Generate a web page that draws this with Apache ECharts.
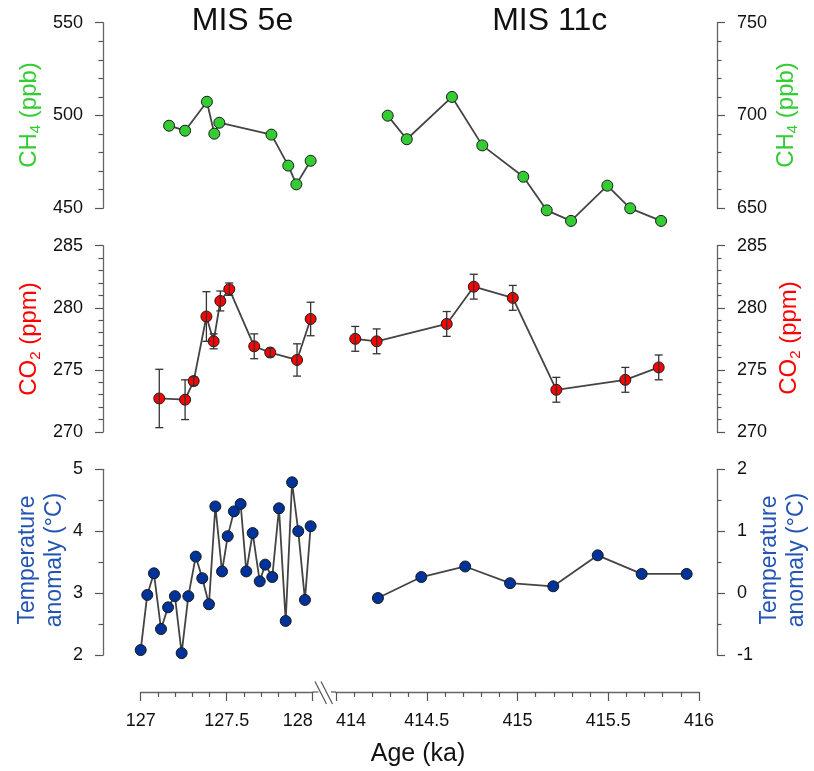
<!DOCTYPE html>
<html><head><meta charset="utf-8">
<script src="https://cdn.jsdelivr.net/npm/echarts@6/dist/echarts.min.js"></script>
<style>html,body{margin:0;padding:0;background:#fff}#c{width:814px;height:771px}</style>
</head><body><div id="c"></div>
<script>
// ---------- DATA ----------
const ch4AgeMIS5e = [127.165, 127.258, 127.385, 127.428, 127.457, 127.760, 127.858, 127.905, 127.988];
const ch4MIS5e    = [494.5, 491.8, 507.4, 490.2, 496.1, 489.7, 473.0, 462.9, 475.6];
const ch4AgeMIS11c = [414.285, 414.390, 414.639, 414.806, 415.032, 415.161, 415.295, 415.495, 415.621, 415.791];
const ch4MIS11c    = [699.9, 687.2, 710.0, 683.9, 667.0, 648.9, 643.2, 662.2, 650.0, 643.2];

const co2AgeMIS5e = [127.108, 127.258, 127.308, 127.382, 127.424, 127.463, 127.515, 127.660, 127.753, 127.909, 127.988];
const co2MIS5e    = [272.7, 272.6, 274.1, 279.3, 277.3, 280.55, 281.5, 276.9, 276.4, 275.8, 279.1];
const co2ErrMIS5e = [2.35, 1.6, 0.35, 2.0, 0.6, 0.8, 0.5, 1.0, 0.33, 1.3, 1.35];
const co2AgeMIS11c = [414.106, 414.224, 414.610, 414.759, 414.974, 415.214, 415.594, 415.778];
const co2MIS11c    = [277.5, 277.3, 278.7, 281.7, 280.8, 273.4, 274.2, 275.2];
const co2ErrMIS11c = [1.0, 1.0, 1.0, 1.0, 1.0, 1.0, 1.0, 1.0];

const tAgeMIS5e = [127.000, 127.038, 127.077, 127.118, 127.159, 127.199, 127.238, 127.277, 127.320,
  127.358, 127.397, 127.434, 127.473, 127.506, 127.542, 127.581, 127.614, 127.651, 127.692,
  127.724, 127.765, 127.804, 127.843, 127.880, 127.916, 127.955, 127.988];
const tMIS5e = [2.08, 2.97, 3.32, 2.42, 2.77, 2.95, 2.03, 2.95, 3.59, 3.24, 2.82, 4.40, 3.35, 3.92,
  4.32, 4.44, 3.35, 3.97, 3.19, 3.46, 3.26, 4.37, 2.55, 4.79, 4.00, 2.89, 4.08];
const tAgeMIS11c = [414.231, 414.470, 414.712, 414.959, 415.197, 415.442, 415.684, 415.932];
const tMIS11c    = [-0.08, 0.26, 0.43, 0.16, 0.11, 0.61, 0.31, 0.31];

const titles = ['MIS 5e', 'MIS 11c'];
const xLabel = 'Age (ka)';
const xRangeMIS5e = [127, 128];
const xRangeMIS11c = [414, 416];
const ch4LeftRange = [450, 550];
const ch4RightRange = [650, 750];
const co2Range = [270, 285];
const tLeftRange = [2, 5];
const tRightRange = [-1, 2];

// ---------- STYLE ----------
const FONT = "'Liberation Sans', Arial, Helvetica, sans-serif";
const GREEN = '#33cc33', RED = '#ff0000', BLUE = '#003399', BLUE_TXT = '#2353b3';
const LINE = '#444444', AXIS = '#666666', TICK = '#555555';

const L = {left: 140.7, width: 172};
const R = {left: 336, width: 363};
const rows = [{top: 22.7, height: 185.6}, {top: 245.7, height: 186.3}, {top: 469.3, height: 185.7}];

const grids = [];
rows.forEach(r => {
  grids.push({left: L.left, width: L.width, top: r.top, height: r.height});
  grids.push({left: R.left, width: R.width, top: r.top, height: r.height});
});
grids.push({left: L.left, width: L.width, top: 652, height: 40});
grids.push({left: R.left, width: R.width, top: 652, height: 40});

const xAxes = [];
for (let i = 0; i < 6; i++) {
  const rng = i % 2 === 0 ? xRangeMIS5e : xRangeMIS11c;
  xAxes.push({type: 'value', gridIndex: i, min: rng[0], max: rng[1], show: false});
}
const lblStyle = {fontSize: 18, fontFamily: FONT, color: '#111'};
function bottomAxis(g, rng) {
  return {
    type: 'value', gridIndex: g, position: 'bottom', min: rng[0], max: rng[1], interval: 0.5,
    axisLine: {show: true, onZero: false, lineStyle: {color: AXIS, width: 1.3}},
    axisTick: {show: true, length: 9, lineStyle: {color: TICK, width: 1.2}},
    minorTick: {show: true, splitNumber: 5, length: 5, lineStyle: {color: TICK, width: 1.2}},
    splitLine: {show: false}, minorSplitLine: {show: false},
    axisLabel: {
      fontSize: 18, color: '#111', fontFamily: FONT, margin: 20,
      formatter: function (v) {
        if (Math.abs(v - xRangeMIS5e[1]) < 1e-9) return '{r|' + v + '}';
        if (Math.abs(v - xRangeMIS11c[0]) < 1e-9) return '{l|' + v + '}';
        return String(v);
      },
      rich: {
        r: Object.assign({padding: [0, 30, 0, 0]}, lblStyle),
        l: Object.assign({padding: [0, 0, 0, 30]}, lblStyle)
      }
    }
  };
}
xAxes.push(bottomAxis(6, xRangeMIS5e));
xAxes.push(bottomAxis(7, xRangeMIS11c));

function yAx(g, pos, rng, interval, minorSplit, offset) {
  return {
    type: 'value', gridIndex: g, position: pos, offset: offset, min: rng[0], max: rng[1], interval: interval,
    axisLine: {show: true, onZero: false, lineStyle: {color: AXIS, width: 1.3}},
    axisTick: {show: true, length: 8, lineStyle: {color: TICK, width: 1.2}},
    minorTick: {show: true, splitNumber: minorSplit, length: 4.5, lineStyle: {color: TICK, width: 1.2}},
    splitLine: {show: false}, minorSplitLine: {show: false},
    axisLabel: {fontSize: 18, color: '#111', fontFamily: FONT, margin: 20}
  };
}
const offL = L.left - 103, offR = 717 - (R.left + R.width);
const yAxes = [
  yAx(0, 'left', ch4LeftRange, 50, 5, offL),
  yAx(1, 'right', ch4RightRange, 50, 5, offR),
  yAx(2, 'left', co2Range, 5, 5, offL),
  yAx(3, 'right', co2Range, 5, 5, offR),
  yAx(4, 'left', tLeftRange, 1, 2, offL),
  yAx(5, 'right', tRightRange, 1, 2, offR),
  {type: 'value', gridIndex: 6, min: 0, max: 1, show: false},
  {type: 'value', gridIndex: 7, min: 0, max: 1, show: false}
];

function lineSeries(idx, ages, vals, color) {
  return {
    type: 'line', xAxisIndex: idx, yAxisIndex: idx, clip: false,
    data: ages.map((a, i) => [a, vals[i]]),
    symbol: 'circle', symbolSize: 11, showSymbol: true,
    itemStyle: {color: color, borderColor: '#1a1a1a', borderWidth: 1},
    lineStyle: {color: LINE, width: 1.8},
    emphasis: {disabled: true}, animation: false, z: 2
  };
}
function errRender(params, api) {
  const x = api.value(0);
  const pLo = api.coord([x, api.value(1)]);
  const pHi = api.coord([x, api.value(2)]);
  const w = 4;
  const st = {stroke: '#333', lineWidth: 1.3};
  return {type: 'group', children: [
    {type: 'line', shape: {x1: pLo[0], y1: pLo[1], x2: pHi[0], y2: pHi[1]}, style: st},
    {type: 'line', shape: {x1: pLo[0] - w, y1: pLo[1], x2: pLo[0] + w, y2: pLo[1]}, style: st},
    {type: 'line', shape: {x1: pHi[0] - w, y1: pHi[1], x2: pHi[0] + w, y2: pHi[1]}, style: st}
  ]};
}
function errSeries(idx, ages, vals, errs) {
  return {
    type: 'custom', xAxisIndex: idx, yAxisIndex: idx, renderItem: errRender, clip: false,
    data: ages.map((a, i) => [a, vals[i] - errs[i], vals[i] + errs[i]]),
    encode: {x: 0, y: [1, 2]}, z: 3, animation: false, silent: true
  };
}

const series = [
  lineSeries(0, ch4AgeMIS5e, ch4MIS5e, GREEN),
  lineSeries(1, ch4AgeMIS11c, ch4MIS11c, GREEN),
  lineSeries(2, co2AgeMIS5e, co2MIS5e, RED),
  lineSeries(3, co2AgeMIS11c, co2MIS11c, RED),
  errSeries(2, co2AgeMIS5e, co2MIS5e, co2ErrMIS5e),
  errSeries(3, co2AgeMIS11c, co2MIS11c, co2ErrMIS11c),
  lineSeries(4, tAgeMIS5e, tMIS5e, BLUE),
  lineSeries(5, tAgeMIS11c, tMIS11c, BLUE)
];

function subLabel(x, y, main, sub, rest, color) {
  return {
    type: 'text', x: x, y: y, rotation: Math.PI / 2,
    style: {
      text: '{a|' + main + '}{b|' + sub + '}{a|' + rest + '}',
      align: 'center', verticalAlign: 'middle',
      rich: {
        a: {fontSize: 24, fontFamily: FONT, fill: color, lineHeight: 28},
        b: {fontSize: 15, fontFamily: FONT, fill: color, verticalAlign: 'bottom', lineHeight: 28}
      }
    }
  };
}
function plainLabel(x, y, text, size, color, rot) {
  return {
    type: 'text', x: x, y: y, rotation: rot || 0,
    style: {text: text, fontSize: size, fontFamily: FONT, fill: color, align: 'center',
            verticalAlign: 'middle', lineHeight: 27}
  };
}
const brk = {stroke: '#555', lineWidth: 1.2};
const graphic = [
  plainLabel(242.5, 21, titles[0], 32, '#111'),
  plainLabel(549.7, 21, titles[1], 32, '#111'),
  subLabel(29.5, 115, 'CH', '4', ' (ppb)', GREEN),
  subLabel(786.5, 115, 'CH', '4', ' (ppb)', GREEN),
  subLabel(29.5, 339, 'CO', '2', ' (ppm)', RED),
  subLabel(789, 338, 'CO', '2', ' (ppm)', RED),
  plainLabel(41.5, 560, 'Temperature\nanomaly (°C)', 23, BLUE_TXT, Math.PI / 2),
  plainLabel(783.5, 560, 'Temperature\nanomaly (°C)', 23, BLUE_TXT, Math.PI / 2),
  plainLabel(418, 754, xLabel, 25, '#111'),
  {type: 'line', shape: {x1: 312.7, y1: 692, x2: 318.5, y2: 692}, style: {stroke: AXIS, lineWidth: 1.3}},
  {type: 'line', shape: {x1: 331, y1: 692, x2: 336, y2: 692}, style: {stroke: AXIS, lineWidth: 1.3}},
  {type: 'line', shape: {x1: 315, y1: 681.5, x2: 326.5, y2: 704}, style: brk},
  {type: 'line', shape: {x1: 321, y1: 681.5, x2: 332.5, y2: 704}, style: brk}
];

const chart = echarts.init(document.getElementById('c'), null, {renderer: 'canvas'});
chart.setOption({
  animation: false,
  backgroundColor: '#ffffff',
  grid: grids,
  xAxis: xAxes,
  yAxis: yAxes,
  series: series,
  graphic: graphic
});
</script>
</body></html>
